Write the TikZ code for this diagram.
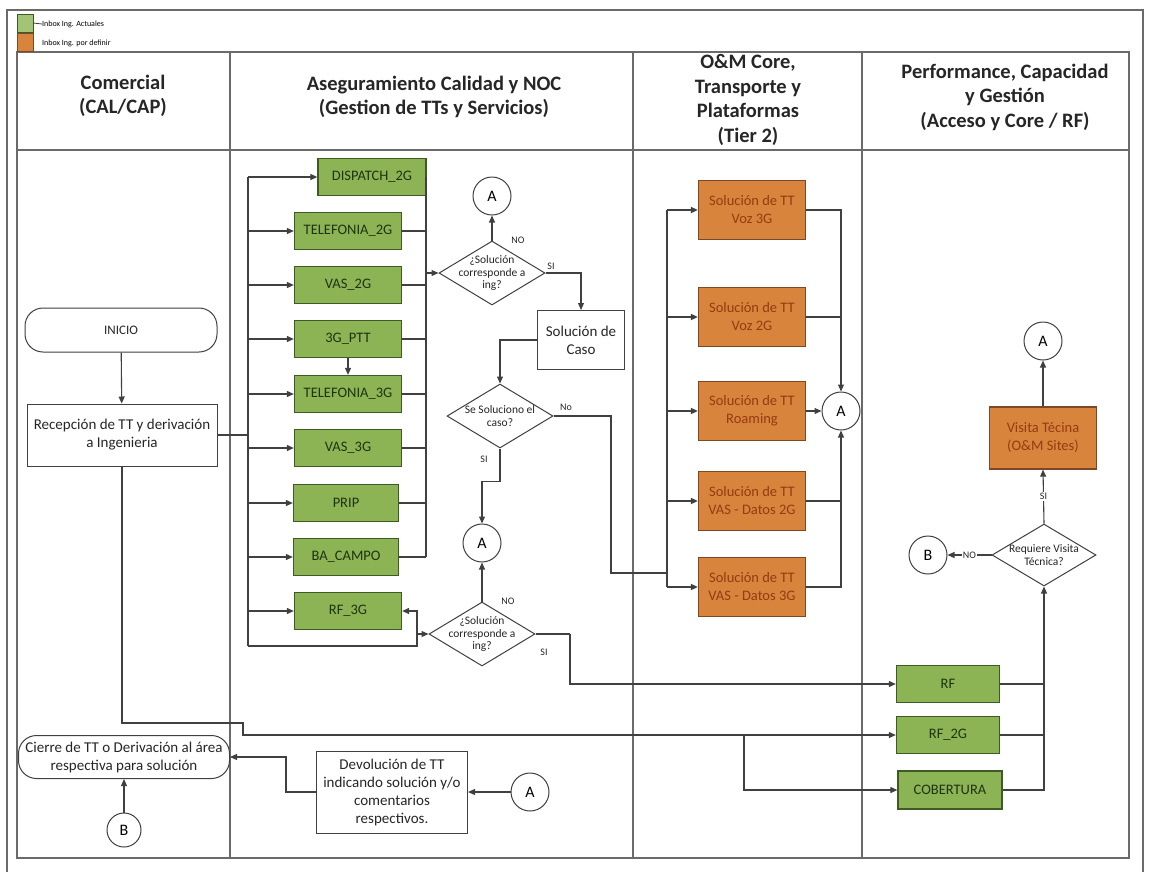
\documentclass[tikz,border=0pt]{standalone}
\usepackage{fontspec}
\setmainfont{Carlito}
\usetikzlibrary{shapes.geometric,arrows.meta}
\definecolor{gfill}{HTML}{8CB455}
\definecolor{gline}{HTML}{3E5A25}
\definecolor{gtext}{HTML}{1F3310}
\definecolor{ofill}{HTML}{D8843C}
\definecolor{oline}{HTML}{7A4A26}
\definecolor{otext}{HTML}{983A12}
\definecolor{ink}{HTML}{404040}
\definecolor{rule}{HTML}{6A6A6A}
\begin{document}
\begin{tikzpicture}[x=1pt,y=-1pt,
  flow/.style={draw=ink,line width=1.1pt},
  arr/.style={flow,-{Triangle[length=7pt,width=6pt]}},
  heavy/.style={line width=1.7pt},
  hdr/.style={font=\bfseries\fontsize{20.5}{24.5}\selectfont,align=center,text=black!85},
  gbox/.style={draw=gline,line width=1.3pt,fill=gfill,minimum width=107pt,minimum height=37pt,inner sep=0pt,font=\fontsize{14.5}{17}\selectfont,text=gtext},
  obox/.style={draw=oline,line width=1.3pt,fill=ofill,minimum width=107pt,minimum height=59pt,inner sep=0pt,align=center,font=\fontsize{14.5}{18}\selectfont,text=otext},
  wbox/.style={draw=ink,line width=1pt,fill=white,inner sep=0pt,align=center,font=\fontsize{15}{18}\selectfont,text=black!85},
  term/.style={wbox,rounded corners=18pt},
  conn/.style={circle,draw=ink,line width=1pt,fill=white,minimum size=38pt,inner sep=0pt,font=\fontsize{16}{18}\selectfont},
  dec/.style={diamond,draw=ink,line width=1pt,fill=white,inner sep=0pt,minimum width=106pt,minimum height=64pt},
  dectxt/.style={font=\fontsize{11.5}{12.5}\selectfont,align=center,text=black!85},
  tag/.style={font=\fontsize{10}{12}\selectfont,inner sep=1pt,text=black!85}
]
\useasboundingbox (0,0) rectangle (1151,871);
\fill[white] (0,0) rectangle (1151,871);

% frame and swimlane table
\draw[rule,line width=1.3pt] (7,875) -- (7,10) -- (1143,10) -- (1143,875);
\draw[rule,line width=1.4pt] (17,52) rectangle (1129,858);
\draw[rule,line width=1.4pt] (17,150) -- (1129,150);
\foreach \xx in {230,633,862} \draw[rule,line width=1.2pt] (\xx,52) -- (\xx,858);

% legend
\node[draw=gline,fill=gfill!80!white,minimum width=16pt,minimum height=18pt,inner sep=0pt] (lgG) at (25,23) {};
\node[draw=oline,fill=ofill,minimum width=16pt,minimum height=18pt,inner sep=0pt] (lgO) at (25,42) {};
\node[anchor=west,font=\fontsize{8}{9}\selectfont,inner sep=0pt] (lgGt) at (42,24) {Inbox Ing. Actuales};
\node[anchor=west,font=\fontsize{8}{9}\selectfont,inner sep=0pt] (lgOt) at (42,43) {Inbox Ing. por definir};
\draw[ink,line width=0.8pt] (lgG.east) -- (lgGt.west);

% lane headers
\node[hdr] (hC) at (123,96) {Comercial\\(CAL/CAP)};
\node[hdr] (hA) at (434,97) {Aseguramiento Calidad y NOC\\(Gestion de TTs y Servicios)};
\node[hdr] (hO) at (748,100) {O\&M Core,\\Transporte y\\Plataformas\\(Tier 2)};
\node[hdr] (hP) at (1005,97) {Performance, Capacidad\\y Gestión\\(Acceso y Core / RF)};

% Comercial
\node[term,minimum width=192pt,minimum height=44pt,font=\fontsize{13}{15}\selectfont] (inicio) at (121,330) {INICIO};
\node[wbox,minimum width=190pt,minimum height=62pt] (recep) at (122,435) {Recepción de TT y derivación\\a Ingenieria};
\node[term,minimum width=211pt,minimum height=43pt] (cierre) at (124,757) {Cierre de TT o Derivación al área\\respectiva para solución};
\node[conn,minimum size=34pt] (b1) at (124,830) {B};

% Aseguramiento Calidad y NOC
\node[gbox,minimum width=108pt] (disp) at (372,177) {DISPATCH\_2G};
\node[gbox] (tel2) at (348,231) {TELEFONIA\_2G};
\node[gbox] (vas2) at (348,285) {VAS\_2G};
\node[gbox] (ptt) at (348,339) {3G\_PTT};
\node[gbox] (tel3) at (348,394) {TELEFONIA\_3G};
\node[gbox] (vas3) at (348,448) {VAS\_3G};
\node[gbox,minimum width=105pt] (prip) at (346,503) {PRIP};
\node[gbox,minimum width=105pt] (bac) at (346,557) {BA\_CAMPO};
\node[gbox] (rf3) at (348,611) {RF\_3G};

\node[dec] (d1) at (492,273) {};
\node[dectxt] (d1t) at (d1) {¿Solución\\corresponde a\\ing?};
\node[conn] (a1) at (492,196) {A};
\node[wbox,minimum width=87pt,minimum height=59pt] (sol) at (581,340) {Solución de\\Caso};
\node[dec] (d3) at (500,416) {};
\node[dectxt] (d3t) at (d3) {Se Soluciono el\\caso?};
\node[conn] (a2) at (482,543) {A};
\node[dec] (d2) at (482,634) {};
\node[dectxt] (d2t) at (d2) {¿Solución\\corresponde a\\ing?};
\node[wbox,minimum width=151pt,minimum height=82pt] (devol) at (392,792) {Devolución de TT\\indicando solución y/o\\comentarios\\respectivos.};
\node[conn] (a3) at (530,792) {A};

\node[tag] (n1) at (518,240) {NO};
\node[tag] (s1) at (551,266) {SI};
\node[tag] (n3) at (566,407) {No};
\node[tag] (s3) at (484,459) {SI};
\node[tag] (n2) at (508,601) {NO};
\node[tag] (s2) at (544,652) {SI};

% O&M Core, Transporte y Plataformas
\node[obox] (voz3) at (752,210) {Solución de TT\\Voz 3G};
\node[obox] (voz2) at (752,317) {Solución de TT\\Voz 2G};
\node[obox] (roam) at (752,411) {Solución de TT\\Roaming};
\node[obox] (vd2) at (752,501) {Solución de TT\\VAS - Datos 2G};
\node[obox] (vd3) at (752,587) {Solución de TT\\VAS - Datos 3G};
\node[conn] (a4) at (841,411) {A};

% Performance, Capacidad y Gestion
\node[conn] (a5) at (1043,341) {A};
\node[obox,minimum height=62pt] (visita) at (1043,438) {Visita Técina\\(O\&M Sites)};
\node[dec,minimum width=104pt,minimum height=62pt] (d4) at (1044,555) {};
\node[dectxt] (d4t) at (d4) {Requiere Visita\\Técnica?};
\node[conn] (b2) at (928,555) {B};
\node[gbox,minimum width=103pt] (rf) at (948,684) {RF};
\node[gbox,minimum width=103pt] (rf2) at (948,735) {RF\_2G};
\node[gbox,minimum width=104pt,minimum height=38pt] (cob) at (950,790) {COBERTURA};

% junction points
\coordinate (lbTop) at (248,177);
\coordinate (lbBot) at (248,646);
\coordinate (rbTop) at (426,177);
\coordinate (rbBot) at (426,557);
\coordinate (lp) at (417,646);
\coordinate (j1) at (611,573);
\coordinate (obTop) at (667,210);
\coordinate (obBot) at (667,587);
\coordinate (j2) at (570,634);
\coordinate (k1) at (243,723);
\coordinate (k2) at (744,735);
\coordinate (k3) at (286,792);

% connectors
\draw[arr] (inicio) -- (recep);
\draw[flow] (recep.east) -- (recep.east -| lbTop);
\draw[flow] (lbTop) -- (lbBot);
\foreach \n in {disp,tel2,vas2,ptt,tel3,vas3,prip,bac,rf3}
  \draw[arr] (lbTop |- \n.west) -- (\n.west);
\draw[flow] (rbTop) -- (rbBot);
\foreach \n in {tel2,vas2,ptt,tel3,vas3,prip,bac}
  \draw[flow] (\n.east) -- (\n.east -| rbTop);
\draw[arr] (rbTop |- d1.west) -- (d1.west);
\draw[arr] (ptt) -- (tel3);
\draw[arr] (lbBot) -- (lp) -- (lp |- rf3.east) -- (rf3.east);
\draw[arr] (lp |- d2.west) -- (d2.west);

\draw[arr] (d1.north) -- (a1.south);
\draw[arr] (d1.east) -| (sol.north);
\draw[arr] (sol.west) -| (d3.north);
\draw[flow] (d3.east) -| (j1) -- (j1 -| obTop);
\draw[arr] (d3.south) -- ++(0,33) -| (a2.north);
\draw[arr] (d2.north) -- (a2.south);
\draw[flow] (d2.east) -- (j2);
\draw[arr] (j2) |- (rf.west);

\draw[flow,heavy] (obTop) -- (obBot);
\foreach \n in {voz3,voz2,roam,vd2,vd3}
  \draw[arr,heavy] (obTop |- \n.west) -- (\n.west);
\draw[arr] (voz3.east) -| (a4.north);
\draw[flow] (voz2.east) -- (voz2.east -| a4);
\draw[arr] (roam.east) -- (a4.west);
\draw[arr] (vd2.east) -| (a4.south);
\draw[flow] (vd3.east) -| (vd2.east -| a4);

\draw[arr] (recep.south) |- (k1) |- (rf2.west);
\draw[arr] (k2) |- (cob.west);
\draw[flow] (rf.east) -- (rf.east -| d4.south);
\draw[flow] (rf2.east) -- (rf2.east -| d4.south);
\draw[arr] (cob.east) -| (d4.south);
\draw[arr] (d4.west) -- node[tag,fill=white] (n4) {NO} (b2.east);
\draw[arr] (d4.north) -- node[tag,fill=white] (s4) {SI} (visita.south);
\draw[arr] (visita.north) -- (a5.south);

\draw[arr] (a3.west) -- (devol.east);
\draw[arr] (devol.west) -- (k3) |- (cierre.east);
\draw[arr] (b1.north) -- (cierre.south);
\end{tikzpicture}
\end{document}
